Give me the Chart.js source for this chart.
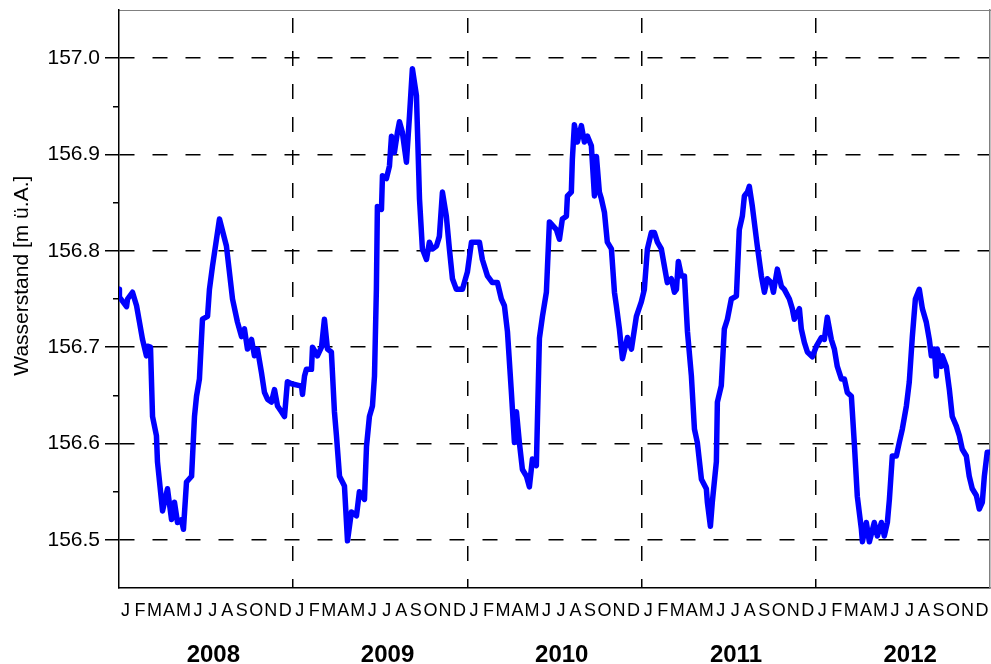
<!DOCTYPE html>
<html lang="de">

<head>
    <meta charset="UTF-8">
    <title>Wasserstand 2008 - 2012</title>
    <script src="https://cdn.jsdelivr.net/npm/chart.js"></script>
    <style>
        body {
            margin: 0;
            padding: 0;
            background-color: #fff;
        }

        .chart-container {
            width: 991px;
            height: 664px;
        }
    </style>
</head>

<body>
    <div class="chart-container">
        <canvas id="levelChart"></canvas>
    </div>

    <script>
        // Beschriftungen
        const monthLetters = ['J', 'F', 'M', 'A', 'M', 'J', 'J', 'A', 'S', 'O', 'N', 'D'];
        const years = [2008, 2009, 2010, 2011, 2012];
        const yMajorTicks = [156.5, 156.6, 156.7, 156.8, 156.9, 157.0];
        const yMinorTicks = [156.55, 156.65, 156.75, 156.85, 156.95];

        // Zeit in Monaten seit 1.1.2008, Wasserstand in m ü.A.
        const months = [
            0.0, 0.03, 0.52, 0.59, 0.93, 1.21, 1.41, 1.62, 1.89, 1.96, 2.17, 2.31, 2.58, 2.65, 3.0, 3.34,
            3.62, 3.82, 4.03, 4.3, 4.44, 4.65, 5.0, 5.2, 5.34, 5.54, 5.75, 6.1, 6.23, 6.44, 6.92, 7.4,
            7.82, 8.16, 8.44, 8.64, 8.85, 9.13, 9.33, 9.54, 9.81, 10.02, 10.23, 10.5, 10.71, 10.92, 11.19, 11.4,
            11.6, 11.88, 12.43, 12.57, 12.64, 12.78, 12.91, 13.26, 13.33, 13.67, 13.95, 14.15, 14.36, 14.63, 14.84, 14.98,
            15.19, 15.53, 15.74, 16.01, 16.36, 16.56, 16.91, 17.05, 17.25, 17.46, 17.6, 17.73, 17.8, 18.08, 18.15, 18.42,
            18.63, 18.77, 18.97, 19.18, 19.32, 19.52, 19.8, 20.01, 20.21, 20.49, 20.7, 20.9, 21.18, 21.38, 21.59, 21.87,
            22.07, 22.28, 22.55, 22.76, 22.97, 23.24, 23.66, 24.0, 24.28, 24.83, 25.03, 25.38, 25.72, 26.07, 26.34, 26.55,
            26.76, 27.03, 27.24, 27.38, 27.58, 27.79, 28.07, 28.27, 28.48, 28.75, 28.96, 29.17, 29.44, 29.65, 30.13, 30.34,
            30.54, 30.82, 30.89, 31.16, 31.23, 31.37, 31.58, 31.85, 32.06, 32.27, 32.54, 32.75, 32.89, 33.09, 33.23, 33.44,
            33.64, 33.92, 34.13, 34.26, 34.47, 34.68, 35.02, 35.3, 35.64, 35.98, 36.19, 36.4, 36.67, 36.88, 37.09, 37.36,
            37.57, 37.77, 38.05, 38.26, 38.4, 38.53, 38.74, 38.95, 39.16, 39.43, 39.64, 39.84, 40.12, 40.46, 40.53, 40.74,
            40.87, 41.15, 41.22, 41.49, 41.7, 41.91, 42.18, 42.53, 42.73, 42.94, 43.08, 43.29, 43.42, 43.63, 43.97, 44.25,
            44.46, 44.66, 44.94, 45.08, 45.35, 45.63, 45.83, 46.18, 46.38, 46.52, 46.87, 47.0, 47.21, 47.42, 47.76, 48.04,
            48.38, 48.59, 48.79, 49.07, 49.28, 49.48, 49.76, 49.97, 50.17, 50.45, 50.65, 50.86, 51.14, 51.21, 51.48, 51.69,
            52.03, 52.24, 52.52, 52.72, 52.93, 53.07, 53.27, 53.55, 53.75, 53.96, 54.24, 54.44, 54.65, 54.86, 55.13, 55.34,
            55.61, 55.82, 55.96, 56.16, 56.3, 56.37, 56.65, 56.71, 56.99, 57.2, 57.4, 57.68, 57.89, 58.09, 58.37, 58.57,
            58.78, 59.06, 59.26, 59.47, 59.61, 59.81, 59.95
        ];
        const level = [
            156.760, 156.752, 156.742, 156.750, 156.757, 156.743, 156.726, 156.708, 156.691, 156.701, 156.700, 156.628, 156.608, 156.581, 156.530, 156.553,
            156.521, 156.539, 156.518, 156.521, 156.511, 156.560, 156.566, 156.628, 156.649, 156.667, 156.729, 156.732, 156.760, 156.784, 156.833, 156.805,
            156.750, 156.726, 156.711, 156.719, 156.698, 156.708, 156.691, 156.698, 156.674, 156.653, 156.646, 156.643, 156.656, 156.639, 156.633, 156.628,
            156.664, 156.662, 156.660, 156.660, 156.651, 156.670, 156.677, 156.677, 156.700, 156.691, 156.700, 156.729, 156.698, 156.695, 156.633, 156.608,
            156.566, 156.556, 156.499, 156.529, 156.525, 156.550, 156.542, 156.597, 156.628, 156.639, 156.670, 156.760, 156.846, 156.843, 156.878, 156.875,
            156.888, 156.919, 156.902, 156.923, 156.934, 156.923, 156.892, 156.940, 156.989, 156.961, 156.854, 156.802, 156.791, 156.809, 156.802, 156.805,
            156.815, 156.861, 156.836, 156.802, 156.771, 156.760, 156.760, 156.778, 156.809, 156.809, 156.791, 156.774, 156.767, 156.767, 156.750, 156.743,
            156.716, 156.653, 156.601, 156.633, 156.601, 156.573, 156.566, 156.555, 156.584, 156.577, 156.709, 156.732, 156.757, 156.830, 156.822, 156.812,
            156.833, 156.836, 156.857, 156.861, 156.895, 156.931, 156.913, 156.930, 156.913, 156.919, 156.909, 156.857, 156.898, 156.861, 156.854, 156.840,
            156.809, 156.802, 156.757, 156.743, 156.719, 156.688, 156.710, 156.698, 156.732, 156.747, 156.760, 156.802, 156.819, 156.819, 156.809, 156.802,
            156.784, 156.767, 156.771, 156.757, 156.760, 156.789, 156.774, 156.774, 156.716, 156.670, 156.615, 156.601, 156.563, 156.553, 156.539, 156.514,
            156.539, 156.581, 156.643, 156.660, 156.719, 156.729, 156.750, 156.753, 156.822, 156.836, 156.857, 156.861, 156.867, 156.846, 156.805, 156.774,
            156.757, 156.771, 156.767, 156.757, 156.781, 156.763, 156.760, 156.750, 156.740, 156.729, 156.740, 156.719, 156.705, 156.695, 156.690, 156.701,
            156.710, 156.708, 156.731, 156.708, 156.698, 156.680, 156.667, 156.667, 156.653, 156.649, 156.601, 156.545, 156.511, 156.498, 156.518, 156.498,
            156.518, 156.504, 156.518, 156.504, 156.518, 156.542, 156.587, 156.587, 156.601, 156.615, 156.639, 156.664, 156.711, 156.750, 156.760, 156.740,
            156.726, 156.708, 156.691, 156.698, 156.670, 156.698, 156.680, 156.691, 156.680, 156.656, 156.628, 156.618, 156.608, 156.594, 156.587, 156.566,
            156.553, 156.546, 156.532, 156.539, 156.566, 156.591, 156.591
        ];

        const points = months.map((m, i) => ({ x: m, y: level[i] }));

        function setTicks(values) {
            return function (scale) {
                scale.ticks = values.map(v => ({ value: v }));
            };
        }

        // feste Achsengroesse, ohne automatischen Rand fuer die Beschriftungen
        function fixSize(width, height) {
            return function (scale) {
                if (width !== null) scale.width = width;
                if (height !== null) scale.height = height;
                scale.paddingLeft = 0;
                scale.paddingRight = 0;
                scale.paddingTop = 0;
                scale.paddingBottom = 0;
            };
        }

        const ctx = document.getElementById('levelChart').getContext('2d');

        var levelChart = new Chart(ctx, {
            type: 'line',
            data: {
                datasets: [{
                    label: 'Wasserstand',
                    data: points,
                    borderColor: 'rgb(0, 0, 255)',
                    borderWidth: 5.5,
                    borderJoinStyle: 'round',
                    borderCapStyle: 'round',
                    pointRadius: 0,
                    tension: 0,
                    fill: false
                }]
            },
            options: {
                responsive: true,
                maintainAspectRatio: false,
                animation: false,
                layout: {
                    padding: { top: 10, right: 1, left: 0, bottom: 0 }
                },
                plugins: {
                    legend: { display: false },
                    tooltip: { enabled: false }
                },
                scales: {
                    // Jahresgrenzen (Gitter) und untere Achse
                    x: {
                        type: 'linear',
                        position: 'bottom',
                        weight: 0,
                        min: 0,
                        max: 60,
                        afterBuildTicks: setTicks([12, 24, 36, 48]),
                        afterFit: fixSize(null, 0),
                        ticks: { display: false },
                        grid: { color: '#000', lineWidth: 1.5, drawTicks: false },
                        border: { color: '#000', width: 1.5, dash: [15, 18], dashOffset: 25 }
                    },
                    monthAxis: {
                        type: 'linear',
                        position: 'bottom',
                        weight: 1,
                        min: 0,
                        max: 60,
                        afterBuildTicks: setTicks(Array.from({ length: 60 }, (_, k) => k + 0.45)),
                        afterFit: fixSize(null, 38),
                        grid: { display: false },
                        border: { display: false },
                        ticks: {
                            autoSkip: false,
                            maxRotation: 0,
                            padding: 4,
                            color: '#000',
                            font: { family: 'Liberation Sans, Arial, sans-serif', size: 18 },
                            callback: function (value) { return monthLetters[Math.floor(value) % 12]; }
                        }
                    },
                    yearAxis: {
                        type: 'linear',
                        position: 'bottom',
                        weight: 2,
                        min: 0,
                        max: 60,
                        afterBuildTicks: setTicks(years.map((y, i) => i * 12 + 6.5)),
                        afterFit: fixSize(null, 38),
                        grid: { display: false },
                        border: { display: false },
                        ticks: {
                            autoSkip: false,
                            maxRotation: 0,
                            padding: 7,
                            color: '#000',
                            font: { family: 'Liberation Sans, Arial, sans-serif', size: 24, weight: 'bold' },
                            callback: function (value) { return years[Math.floor(value / 12)]; }
                        }
                    },
                    xTop: {
                        type: 'linear',
                        position: 'top',
                        min: 0,
                        max: 60,
                        afterFit: fixSize(null, 0),
                        ticks: { display: false },
                        grid: { display: false },
                        border: { color: '#808080', width: 1 }
                    },
                    y: {
                        type: 'linear',
                        position: 'left',
                        weight: 1,
                        min: 156.45,
                        max: 157.05,
                        afterBuildTicks: setTicks(yMajorTicks),
                        afterFit: fixSize(119, null),
                        grid: { color: '#000', lineWidth: 1.5, tickLength: 14, tickColor: '#000' },
                        border: { color: '#000', width: 1.5, dash: [15, 18] },
                        ticks: {
                            padding: 5,
                            color: '#000',
                            font: { family: 'Liberation Sans, Arial, sans-serif', size: 21 },
                            callback: function (value) { return value.toFixed(1); }
                        },
                        title: {
                            display: true,
                            text: '\u00a0\u00a0\u00a0\u00a0\u00a0\u00a0\u00a0\u00a0Wasserstand [m ü.A.]',
                            color: '#000',
                            padding: { top: 10, bottom: 0 },
                            font: { family: 'Liberation Sans, Arial, sans-serif', size: 21 }
                        }
                    },
                    yMinor: {
                        type: 'linear',
                        position: 'left',
                        weight: 0,
                        min: 156.45,
                        max: 157.05,
                        afterBuildTicks: setTicks(yMinorTicks),
                        afterFit: fixSize(0, null),
                        ticks: { display: false },
                        grid: { drawOnChartArea: false, tickLength: 6, color: '#000', lineWidth: 1.5 },
                        border: { display: false }
                    },
                    yRight: {
                        type: 'linear',
                        position: 'right',
                        min: 156.45,
                        max: 157.05,
                        afterFit: fixSize(0, null),
                        ticks: { display: false },
                        grid: { display: false },
                        border: { color: '#808080', width: 1.5 }
                    }
                }
            }
        });
    </script>
</body>

</html>
